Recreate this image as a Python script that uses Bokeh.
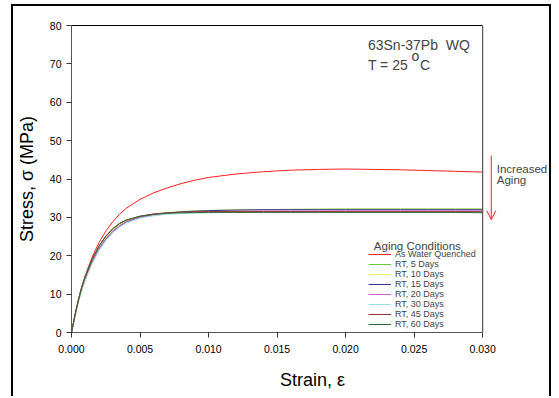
from bokeh.plotting import figure
from bokeh.models import (Range1d, FixedTicker, Legend, LegendItem, Label, Arrow,
                          OpenHead, Span, LinearAxis)
from bokeh.embed import file_html
from bokeh.resources import INLINE

FONT = "Liberation Sans"

strain = [0, 0.00025, 0.0005, 0.00075, 0.001, 0.0015, 0.002, 0.0025, 0.003, 0.0035,
          0.004, 0.005, 0.006, 0.007, 0.008, 0.009, 0.010, 0.012, 0.014, 0.016,
          0.018, 0.020, 0.022, 0.024, 0.026, 0.028, 0.030]

as_water_quenched = [0, 4.5, 8.5, 12.0, 14.8, 19.6, 23.4, 26.4, 28.8, 30.8, 32.4, 34.7, 36.4,
                     37.7, 38.8, 39.7, 40.4, 41.3, 41.9, 42.3, 42.5, 42.6, 42.5, 42.4, 42.2,
                     42.0, 41.8]
rt_5 = [0, 4.4, 8.3, 11.6, 14.3, 18.8, 22.3, 24.9, 26.8, 28.2, 29.1, 30.2, 30.8, 31.2, 31.5,
        31.7, 31.8, 31.95, 32.05, 32.1, 32.15, 32.2, 32.2, 32.2, 32.2, 32.2, 32.2]
rt_10 = [0, 4.4, 8.2, 11.5, 14.2, 18.7, 22.1, 24.7, 26.6, 28.0, 29.0, 30.1, 30.7, 31.1, 31.4,
         31.6, 31.75, 31.9, 32.0, 32.05, 32.1, 32.1, 32.1, 32.1, 32.1, 32.1, 32.1]
rt_15 = [0, 4.3, 8.1, 11.3, 13.9, 18.3, 21.7, 24.3, 26.3, 27.7, 28.8, 30.0, 30.7, 31.1, 31.4,
         31.6, 31.75, 31.9, 32.0, 32.0, 32.0, 32.0, 32.0, 32.0, 32.0, 32.0, 32.0]
rt_20 = [0, 4.3, 8.1, 11.3, 14.0, 18.4, 21.8, 24.4, 26.4, 27.8, 28.9, 30.0, 30.6, 31.0, 31.2,
         31.4, 31.5, 31.6, 31.7, 31.7, 31.7, 31.7, 31.7, 31.7, 31.7, 31.7, 31.7]
rt_30 = [0, 4.2, 7.9, 11.0, 13.6, 17.9, 21.3, 23.9, 25.9, 27.4, 28.5, 29.8, 30.4, 30.8, 31.0,
         31.1, 31.2, 31.3, 31.3, 31.3, 31.3, 31.3, 31.3, 31.3, 31.3, 31.3, 31.3]
rt_45 = [0, 4.5, 8.4, 11.8, 14.5, 19.0, 22.5, 25.1, 27.0, 28.4, 29.3, 30.3, 30.9, 31.2, 31.35,
         31.45, 31.5, 31.5, 31.5, 31.5, 31.5, 31.5, 31.5, 31.5, 31.5, 31.5, 31.5]
rt_60 = [0, 4.5, 8.4, 11.8, 14.5, 19.0, 22.5, 25.1, 27.0, 28.4, 29.3, 30.3, 30.8, 31.1, 31.2,
         31.25, 31.3, 31.3, 31.3, 31.3, 31.3, 31.3, 31.3, 31.3, 31.3, 31.3, 31.2]

series_labels = ["As Water Quenched", "RT, 5 Days", "RT, 10 Days", "RT, 15 Days",
                 "RT, 20 Days", "RT, 30 Days", "RT, 45 Days", "RT, 60 Days"]
series_values = [as_water_quenched, rt_5, rt_10, rt_15, rt_20, rt_30, rt_45, rt_60]
series_colors = ["#ff2020", "#66cc33", "#f0f060", "#333399", "#cc66cc", "#99dddd",
                 "#993333", "#336633"]

x_ticks = [0.0, 0.005, 0.010, 0.015, 0.020, 0.025, 0.030]
x_tick_labels = ["0.000", "0.005", "0.010", "0.015", "0.020", "0.025", "0.030"]
y_ticks = [0, 10, 20, 30, 40, 50, 60, 70, 80]

X_END = 0.030
# frame continues past the x axis end so the side note and arrow are not clipped
p = figure(width=540, height=392, output_backend="svg", toolbar_location=None,
           x_range=Range1d(0, 0.03517), y_range=Range1d(0, 80),
           min_border_left=55, min_border_right=0, min_border_top=19, min_border_bottom=66)
p.margin = (4, 0, 0, 11)
p.styles = {"border-left": "2px solid black", "border-top": "2px solid black",
            "border-right": "2px solid black"}
p.grid.visible = False
p.outline_line_color = None
p.background_fill_color = "white"
p.border_fill_color = "white"

for ax in (p.xaxis[0], p.yaxis[0]):
    ax.axis_line_color = "#555555"
    ax.major_tick_line_color = "#333333"
    ax.minor_tick_line_color = None
    ax.major_tick_in = 0
    ax.major_tick_out = 5
    ax.major_label_text_font = FONT
    ax.major_label_text_font_size = "10.5px"
    ax.major_label_text_color = "black"
    ax.axis_label_text_font = FONT
    ax.axis_label_text_font_size = "18px"
    ax.axis_label_text_font_style = "normal"
    ax.axis_label_text_color = "black"

p.xaxis.bounds = (0, X_END)
p.xaxis.ticker = FixedTicker(ticks=x_ticks)
p.xaxis.major_label_overrides = {t: l for t, l in zip(x_ticks, x_tick_labels)}
p.xaxis.major_label_standoff = 7
p.xaxis.axis_label = "Strain, ε"
p.xaxis.axis_label_standoff = 14
p.yaxis.ticker = FixedTicker(ticks=y_ticks)
p.yaxis.major_label_standoff = 5
p.yaxis.axis_label = "Stress, σ (MPa)"
p.yaxis.axis_label_standoff = 10

top_axis = LinearAxis(bounds=(0, X_END), ticker=FixedTicker(ticks=[]),
                      axis_line_color="black", axis_line_width=1.2,
                      major_tick_line_color=None, minor_tick_line_color=None,
                      major_label_text_font_size="0px")
p.add_layout(top_axis, "above")
p.add_layout(Span(location=X_END, dimension="height", line_color="#555555", line_width=1.2))

items = []
for lab, vals, col in zip(series_labels, series_values, series_colors):
    r = p.line(strain, vals, line_color=col, line_width=1)
    items.append(LegendItem(label=lab, renderers=[r]))

legend = Legend(items=items, location=(297, 3), label_text_font=FONT,
                label_text_font_size="9px",
                label_height=10, glyph_height=10,
                glyph_width=23, spacing=0, padding=0, margin=0, label_standoff=4,
                border_line_alpha=0, background_fill_alpha=0)
p.add_layout(legend, "center")

p.add_layout(Label(x=0.02206, y=22.6, text="Aging Conditions", text_font=FONT,
                   text_font_size="11.5px", text_baseline="alphabetic"))
p.add_layout(Label(x=0.02163, y=74.8, text="63Sn-37Pb\u00a0\u00a0WQ", text_font=FONT,
                   text_font_size="14px", text_baseline="alphabetic"))
p.add_layout(Label(x=0.02163, y=69.6, text="T = 25", text_font=FONT,
                   text_font_size="14px", text_baseline="alphabetic"))
p.add_layout(Label(x=0.02481, y=72.0, text="o", text_font=FONT,
                   text_font_size="14px", text_baseline="alphabetic"))
p.add_layout(Label(x=0.02543, y=69.6, text="C", text_font=FONT,
                   text_font_size="14px", text_baseline="alphabetic"))
p.add_layout(Label(x=0.03103, y=42.7, text="Increased", text_font=FONT,
                   text_font_size="11.5px", text_baseline="alphabetic"))
p.add_layout(Label(x=0.03103, y=39.8, text="Aging", text_font=FONT,
                   text_font_size="11.5px", text_baseline="alphabetic"))
p.add_layout(Arrow(x_start=0.03063, y_start=46.1, x_end=0.03063, y_end=29.4,
                   line_color="#ff2020", line_width=1,
                   end=OpenHead(size=9, line_color="#ff2020", line_width=1)))

open("out.html", "w").write(file_html(p, INLINE))
